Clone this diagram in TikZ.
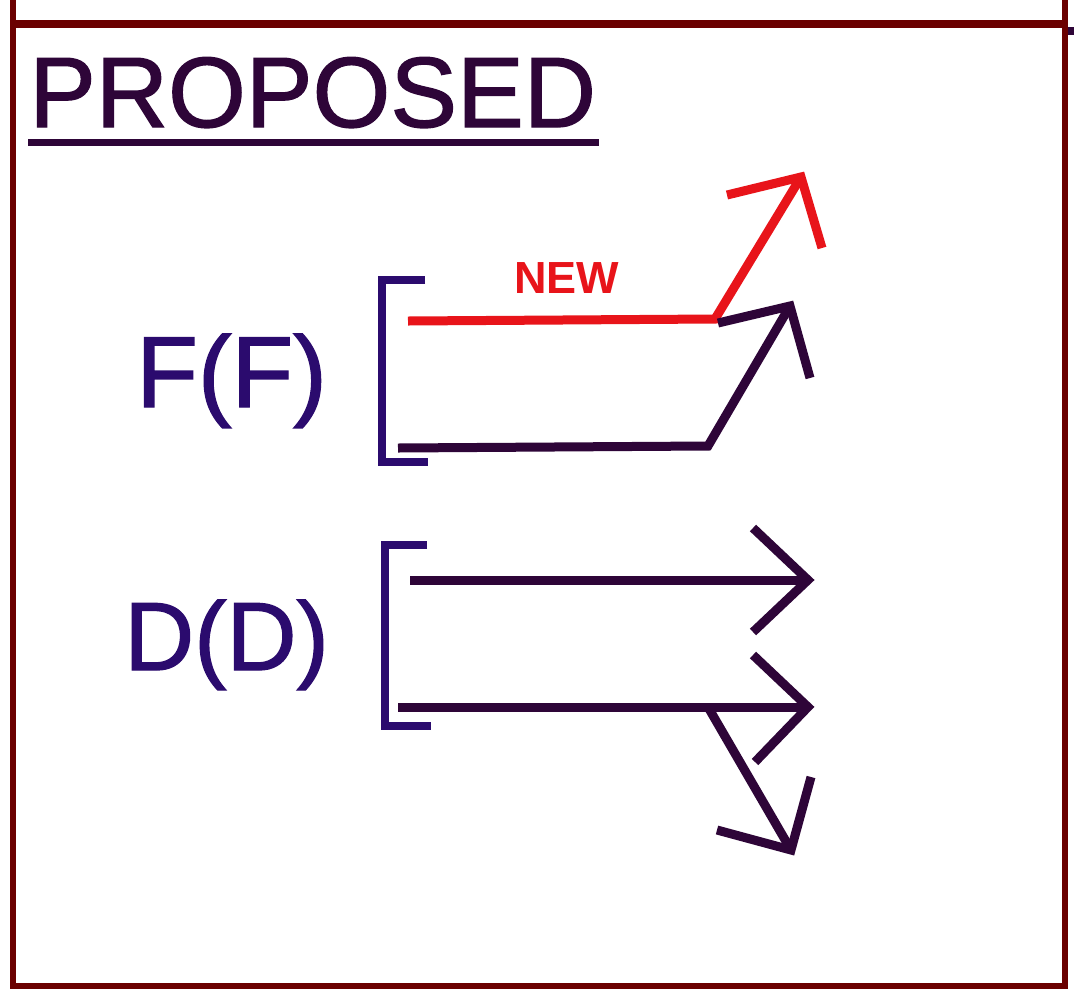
\documentclass[tikz,border=0pt]{standalone}
\usepackage{fontspec}
\setmainfont{Liberation Sans}
\newfontfamily\heavyfont[FakeBold=1.3]{Liberation Sans}
\definecolor{framecol}{HTML}{6B0000}
\definecolor{darkline}{HTML}{2E0538}
\definecolor{indigo}{HTML}{2B0B6E}
\definecolor{newred}{HTML}{E8141A}
\begin{document}
\begin{tikzpicture}[x=1pt,y=-1pt,
  framestyle/.style={draw=framecol,line width=6pt},
  brack/.style={draw=indigo,line width=7.5pt},
  dline/.style={draw=darkline,line width=9pt,line join=miter},
  rline/.style={draw=newred,line width=9pt,line join=miter},
  bigtext/.style={anchor=base west,inner sep=0pt,text=indigo}]
\useasboundingbox (0,0) rectangle (1074,989);
\fill[white] (0,0) rectangle (1074,989);
% frame
\draw[framestyle] (13,0) -- (13,986) -- (1065,986) -- (1065,0);
\draw[framestyle,line width=8pt] (13,24) -- (1065,24);
\fill[darkline] (1068,27) rectangle (1074,35);
% title
\node[anchor=base west,inner sep=0pt,text=darkline,font=\heavyfont\fontsize{100}{100}\selectfont] (title) at (29,127) {PROPOSED};
\draw[draw=darkline,line width=7pt] (28,142) -- (599,142);
% labels
\node[bigtext,font=\heavyfont\fontsize{101}{101}\selectfont] (ff) at (136,407) {F(F)};
\node[bigtext,font=\heavyfont\fontsize{97}{97}\selectfont] (dd) at (124,670) {D(D)};
\node[anchor=base west,inner sep=0pt,text=newred,font=\bfseries\fontsize{45}{45}\selectfont] (new) at (514,293) {NEW};
% bracket F
\draw[brack] (425,280) -- (382,280) -- (382,462) -- (428,462);
% red new line
\coordinate (r0) at (408,321);
\coordinate (r1) at (715,319);
\coordinate (r2) at (801,177);
\draw[rline] (r0) -- (r1) -- (r2);
\draw[rline] (727,195) -- (r2) -- (822,248);
% dark F line
\coordinate (f0) at (398,448);
\coordinate (f1) at (708,446);
\coordinate (f2) at (790,306);
\draw[dline] (f0) -- (f1) -- (f2);
\draw[dline] (718,323) -- (f2) -- (810,378);
% bracket D
\draw[brack] (427,545) -- (385,545) -- (385,726) -- (431,726);
% D arrows
\coordinate (d0) at (410,580);
\coordinate (d1) at (808,580);
\draw[dline] (d0) -- (d1);
\draw[dline] (753,528) -- (d1) -- (753,632);
\coordinate (e0) at (398,707);
\coordinate (e1) at (808,707);
\draw[dline] (e0) -- (e1);
\draw[dline] (753,655) -- (e1) -- (755,762);
\coordinate (b0) at (708,707);
\coordinate (b1) at (791,850);
\draw[dline] (b0) -- (b1);
\draw[dline] (717,830) -- (b1) -- (811,777);
\end{tikzpicture}
\end{document}
